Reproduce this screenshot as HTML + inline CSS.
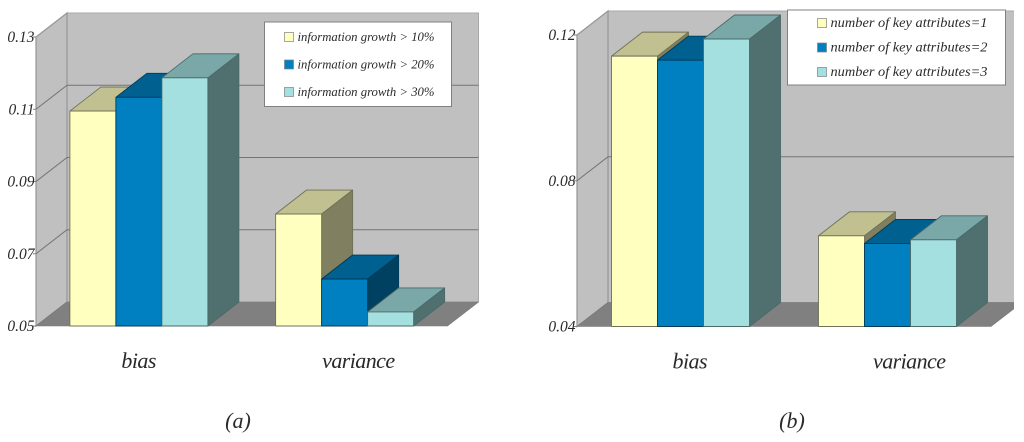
<!DOCTYPE html>
<html lang="en">
<head>
<meta charset="utf-8">
<title>Bias and variance 3D bar charts</title>
<style>
html,body{margin:0;padding:0;background:#fff;width:1024px;height:442px;overflow:hidden}
svg{display:block}
text{font-family:"Liberation Serif","DejaVu Serif",serif;font-style:italic;fill:#2a2a2a}
</style>
</head>
<body>
<svg id="root" xmlns="http://www.w3.org/2000/svg" width="1024" height="442" viewBox="0 0 1024 442"></svg>
<script>
const categories = ['bias', 'variance'];

const ticksA = [0.05, 0.07, 0.09, 0.11, 0.13];
const tickLabelsA = ['0.05', '0.07', '0.09', '0.11', '0.13'];
const seriesNamesA = ['information growth > 10%', 'information growth > 20%', 'information growth > 30%'];
const growth10 = [0.1095, 0.081];
const growth20 = [0.1133, 0.063];
const growth30 = [0.1187, 0.0539];

const ticksB = [0.04, 0.08, 0.12];
const tickLabelsB = ['0.04', '0.08', '0.12'];
const seriesNamesB = ['number of key attributes=1', 'number of key attributes=2', 'number of key attributes=3'];
const keyAttr1 = [0.1142, 0.0649];
const keyAttr2 = [0.1131, 0.0628];
const keyAttr3 = [0.1189, 0.0638];

const palette = [
  {front:'#ffffc0', top:'#c0c090', side:'#808060', line:'#70705a'},
  {front:'#0080c0', top:'#006090', side:'#004060', line:'#003a58'},
  {front:'#a4e0e0', top:'#7aa8a8', side:'#507070', line:'#4a6a6a'}
];

const NS = 'http://www.w3.org/2000/svg';
const root = document.getElementById('root');

function make(parent, tag, attrs, text) {
  const el = document.createElementNS(NS, tag);
  for (const k in attrs) el.setAttribute(k, attrs[k]);
  if (text !== undefined) el.textContent = text;
  parent.appendChild(el);
  return el;
}
function pts(list) {
  return list.map(p => p[0] + ',' + p[1]).join(' ');
}

function drawChart(c) {
  const g = make(root, 'g', {});
  
  
  const clipId = c.name + '-clip';
  const defs = make(g, 'defs', {});
  const cp = make(defs, 'clipPath', {id: clipId});
  make(cp, 'rect', {x: 0, y: 0, width: c.clipRight, height: 442});
  const plot = make(g, 'g', {'clip-path': 'url(#' + clipId + ')'});

  const dx = 31, dy = -24;
  const yMin = c.ticks[0], yMax = c.ticks[c.ticks.length - 1];
  const y = v => c.y0 + (v - yMin) / (yMax - yMin) * (c.y1 - c.y0);
  const right = c.x0 + c.w;
  const top = y(yMax);

  const backWall = make(plot, 'polygon', {points: pts([[c.x0 + dx, top + dy], [right + dx, top + dy], [right + dx, c.y0 + dy], [c.x0 + dx, c.y0 + dy]]), fill: '#c0c0c0', stroke: '#a8a8a8', 'stroke-width': 1});
  
  

  const sideWall = make(plot, 'polygon', {points: pts([[c.x0, top], [c.x0 + dx, top + dy], [c.x0 + dx, c.y0 + dy], [c.x0, c.y0]]), fill: '#c0c0c0', stroke: '#969696', 'stroke-width': 1.2});
  
  

  const floor = make(plot, 'polygon', {points: pts([[c.x0, c.y0], [c.x0 + dx, c.y0 + dy], [right + dx, c.y0 + dy], [right, c.y0]]), fill: '#808080', stroke: '#777', 'stroke-width': 0.6});
  
  

  c.ticks.forEach((t, i) => {
    const ty = y(t);
    if (i > 0 && i < c.ticks.length - 1) {
      const grid = make(plot, 'polyline', {points: pts([[c.x0, ty], [c.x0 + dx, ty + dy], [right + dx, ty + dy]]), fill: 'none', stroke: '#747474', 'stroke-width': 1.1});
      
      
    }
    const tick = make(g, 'line', {x1: c.x0 - 3, x2: c.x0, y1: ty, y2: ty, stroke: '#808080', 'stroke-width': 1});
    
    
    const label = make(g, 'text', {x: c.x0 - 1.5, y: ty + 5, 'text-anchor': 'end', 'font-size': 15.5}, c.tickLabels[i]);
    
    
  });

  const band = c.w / categories.length;
  const barW = 46;
  categories.forEach((cat, ci) => {
    const center = c.x0 + band * (ci + 0.5);
    c.series.forEach((vals, si) => {
      const x = center - barW * c.series.length / 2 + si * barW;
      const yt = y(vals[ci]);
      const col = palette[si];
      const bar = make(plot, 'g', {'stroke': col.line, 'stroke-width': 0.9, 'stroke-linejoin': 'round'});
      
      
      make(bar, 'polygon', {points: pts([[x + barW, yt], [x + barW + dx, yt + dy], [x + barW + dx, c.y0 + dy], [x + barW, c.y0]]), fill: col.side});
      make(bar, 'polygon', {points: pts([[x, yt], [x + dx, yt + dy], [x + barW + dx, yt + dy], [x + barW, yt]]), fill: col.top});
      make(bar, 'rect', {x: x, y: yt, width: barW, height: c.y0 - yt, fill: col.front});
    });
    const catLabel = make(g, 'text', {x: center + c.labelShift[ci], y: c.y0 + 42, 'text-anchor': 'middle', 'font-size': 22, textLength: cat.length > 4 ? 73 : 35, lengthAdjust: 'spacing'}, cat);
    
    
  });

  const lg = make(g, 'g', {});
  
  
  make(lg, 'rect', {x: c.legend.x, y: c.legend.y, width: c.legend.w, height: c.legend.h, fill: '#fff', stroke: '#808080', 'stroke-width': 1});
  c.names.forEach((n, i) => {
    const ly = c.legend.first + i * c.legend.step;
    const sw = make(lg, 'rect', {x: c.legend.swatch, y: ly - 4.5, width: 9, height: 9, fill: palette[i].front, stroke: '#808080', 'stroke-width': 0.7});
    
    
    const tx = make(lg, 'text', {x: c.legend.swatch + 13, y: ly + 4, 'font-size': c.legend.size, textLength: c.legend.textW, lengthAdjust: 'spacingAndGlyphs'}, n);
    
    
  });

  const cap = make(g, 'text', {x: c.capX, y: 428, 'text-anchor': 'middle', 'font-size': 22}, c.caption);
  
  
}

drawChart({
  name: 'chart-a', caption: '(a)', capX: 238,
  ticks: ticksA, tickLabels: tickLabelsA, names: seriesNamesA,
  series: [growth10, growth20, growth30],
  x0: 36, w: 411.5, y0: 326, y1: 37, clipRight: 1024, labelShift: [0, 14],
  legend: {x: 264.5, y: 22, w: 187, h: 84.5, first: 37, step: 27.5, swatch: 284.5, textW: 137, size: 13}
});
drawChart({
  name: 'chart-b', caption: '(b)', capX: 792,
  ticks: ticksB, tickLabels: tickLabelsB, names: seriesNamesB,
  series: [keyAttr1, keyAttr2, keyAttr3],
  x0: 577, w: 414, y0: 326.5, y1: 35, clipRight: 1014, labelShift: [9.5, 22],
  legend: {x: 787.5, y: 10, w: 218, h: 75, first: 23, step: 24.5, swatch: 817.5, textW: 157, size: 14}
});
</script>
</body>
</html>
